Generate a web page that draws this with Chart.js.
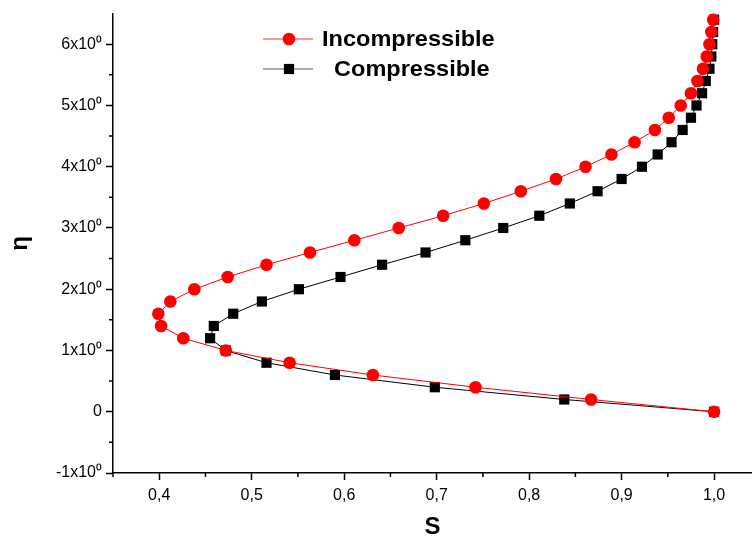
<!DOCTYPE html>
<html>
<head>
<meta charset="utf-8">
<script src="https://cdn.jsdelivr.net/npm/chart.js@4/dist/chart.umd.min.js"></script>
<style>
    body { margin: 0; background: #fff; }
    #grafico { display: block; }
</style>
</head>
<body>
<canvas id="grafico" width="752" height="542"></canvas>
<script>
// eta (eixo y) e S (eixo x)
const eta = [0, 0.2, 0.4, 0.6, 0.8, 1.0, 1.2, 1.4, 1.6, 1.8, 2.0, 2.2, 2.4, 2.6, 2.8, 3.0,
    3.2, 3.4, 3.6, 3.8, 4.0, 4.2, 4.4, 4.6, 4.8, 5.0, 5.2, 5.4, 5.6, 5.8, 6.0, 6.2, 6.4];

const sIncompressivel = [1.0, 0.867, 0.742, 0.631, 0.541, 0.472, 0.426, 0.402, 0.399, 0.412, 0.438,
    0.474, 0.516, 0.563, 0.611, 0.659, 0.707, 0.751, 0.791, 0.829, 0.861, 0.889, 0.914,
    0.936, 0.951, 0.964, 0.975, 0.982, 0.988, 0.992, 0.995, 0.997, 0.999];

const sCompressivel = [1.0, 0.838, 0.698, 0.590, 0.516, 0.472, 0.455, 0.459, 0.480, 0.511, 0.551,
    0.596, 0.641, 0.688, 0.731, 0.772, 0.811, 0.844, 0.874, 0.900, 0.922, 0.939, 0.954,
    0.966, 0.975, 0.981, 0.987, 0.991, 0.995, 0.997, 0.998, 0.999, 1.0];

const nomesSeries = ['Incompressible', 'Compressible'];

const xTicks = [0.4, 0.5, 0.6, 0.7, 0.8, 0.9, 1.0];
const xTickLabels = ['0,4', '0,5', '0,6', '0,7', '0,8', '0,9', '1,0'];
const xMinorTicks = [0.35, 0.45, 0.55, 0.65, 0.75, 0.85, 0.95];

const yTicks = [-1, 0, 1, 2, 3, 4, 5, 6];
const yTickLabels = ['-1x10\u2070', '0', '1x10\u2070', '2x10\u2070', '3x10\u2070', '4x10\u2070', '5x10\u2070', '6x10\u2070'];
const yMinorTicks = [-0.5, 0.5, 1.5, 2.5, 3.5, 4.5, 5.5];

const fonte = 'Arial, "Liberation Sans", sans-serif';

function pares(xs, ys) {
    let pts = [];
    for (let i = 0; i < xs.length; i++) {
        pts.push({ x: xs[i], y: ys[i] });
    }
    return pts;
}

// ticks menores (mais curtos que os principais)
const ticksMenores = {
    id: 'ticksMenores',
    afterDraw(chart) {
        const ctx = chart.ctx;
        const sx = chart.scales.x;
        const sy = chart.scales.y;
        ctx.save();
        ctx.strokeStyle = '#000';
        ctx.lineWidth = 1.5;
        ctx.beginPath();
        xMinorTicks.forEach(v => {
            const px = sx.getPixelForValue(v);
            ctx.moveTo(px, sx.top);
            ctx.lineTo(px, sx.top + 4);
        });
        yMinorTicks.forEach(v => {
            const py = sy.getPixelForValue(v);
            ctx.moveTo(sy.right, py);
            ctx.lineTo(sy.right - 4, py);
        });
        ctx.stroke();
        ctx.restore();
    }
};

// legenda no estilo do Origin: linha + marcador
const legendaOrigin = {
    id: 'legendaOrigin',
    afterDatasetsDraw(chart) {
        const ctx = chart.ctx;
        const itens = [
            { y: 39, linha: '#ff3030', ds: chart.data.datasets[0], texto: nomesSeries[0], tx: 322 },
            { y: 69, linha: '#555555', ds: chart.data.datasets[1], texto: nomesSeries[1], tx: 334 }
        ];
        ctx.save();
        itens.forEach(it => {
            ctx.strokeStyle = it.linha;
            ctx.lineWidth = 1;
            ctx.beginPath();
            ctx.moveTo(263, it.y);
            ctx.lineTo(313, it.y);
            ctx.stroke();
            ctx.fillStyle = it.ds.pointBackgroundColor;
            ctx.strokeStyle = it.ds.pointBorderColor;
            Chart.helpers.drawPoint(ctx, {
                pointStyle: it.ds.pointStyle,
                radius: it.ds.pointRadius,
                borderWidth: 0,
                rotation: 0
            }, 289, it.y);
            // texto um pouco esticado na horizontal, como no original
            ctx.save();
            ctx.translate(it.tx, it.y + 1);
            ctx.scale(1.07, 1);
            ctx.fillStyle = '#000';
            ctx.font = 'bold 22px ' + fonte;
            ctx.textBaseline = 'middle';
            ctx.textAlign = 'left';
            ctx.fillText(it.texto, 0, 0);
            ctx.restore();
        });
        ctx.restore();
    }
};

new Chart(document.getElementById('grafico'), {
    type: 'scatter',
    data: {
        datasets: [{
            label: nomesSeries[0],
            data: pares(sIncompressivel, eta),
            showLine: true,
            borderColor: '#ff0000',
            borderWidth: 1,
            pointStyle: 'circle',
            pointRadius: 6.3,
            pointBorderWidth: 0,
            pointBackgroundColor: '#ff0000',
            pointBorderColor: '#ff0000',
            clip: false
        }, {
            label: nomesSeries[1],
            data: pares(sCompressivel, eta),
            showLine: true,
            borderColor: '#000000',
            borderWidth: 1,
            pointStyle: 'rect',
            pointRadius: 7.2,
            pointBorderWidth: 0,
            pointBackgroundColor: '#000000',
            pointBorderColor: '#000000',
            clip: false
        }]
    },
    options: {
        responsive: false,
        animation: false,
        layout: {
            autoPadding: false,
            padding: { top: 13, right: 0, bottom: 0, left: 0 }
        },
        plugins: {
            legend: { display: false },
            tooltip: { enabled: false }
        },
        scales: {
            x: {
                type: 'linear',
                min: 0.35,
                max: 1.041,
                afterBuildTicks: (s) => { s.ticks = xTicks.map(v => ({ value: v })); },
                afterFit: (s) => {
                    s.height = 69;
                    s.paddingLeft = 0;
                    s.paddingRight = 0;
                },
                border: { display: true, color: '#000', width: 1.5 },
                grid: {
                    drawOnChartArea: false,
                    drawTicks: true,
                    tickLength: 7,
                    tickWidth: 1.5,
                    tickColor: '#000'
                },
                ticks: {
                    color: '#000',
                    padding: 6,
                    maxRotation: 0,
                    autoSkip: false,
                    font: { family: fonte, size: 16 },
                    callback: (v, i) => xTickLabels[i]
                },
                title: {
                    display: true,
                    text: 'S',
                    color: '#000',
                    padding: { top: 0, bottom: 0 },
                    font: { family: fonte, size: 24, weight: 'bold' }
                }
            },
            y: {
                type: 'linear',
                min: -1,
                max: 6.5,
                afterBuildTicks: (s) => { s.ticks = yTicks.map(v => ({ value: v })); },
                afterFit: (s) => { s.width = 113; },
                border: { display: true, color: '#000', width: 1.5 },
                grid: {
                    drawOnChartArea: false,
                    drawTicks: true,
                    tickLength: 7,
                    tickWidth: 1.5,
                    tickColor: '#000'
                },
                ticks: {
                    color: '#000',
                    padding: 4,
                    autoSkip: false,
                    font: { family: fonte, size: 16 },
                    callback: (v, i) => yTickLabels[i]
                },
                title: {
                    display: true,
                    text: '\u03b7',
                    color: '#000',
                    padding: { top: 6, bottom: 0 },
                    font: { family: fonte, size: 24, weight: 'bold' }
                }
            }
        }
    },
    plugins: [ticksMenores, legendaOrigin]
});
</script>
</body>
</html>
